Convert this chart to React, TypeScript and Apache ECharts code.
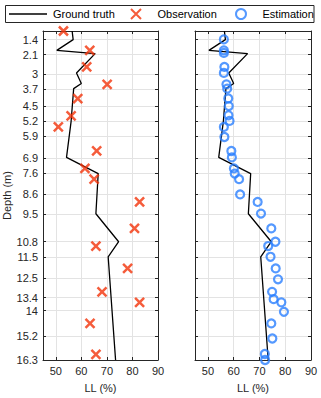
import React, { useEffect, useRef } from "react";
import * as echarts from "echarts";

const depthTicks = [1.4, 2.1, 3, 3.7, 4.5, 5.2, 5.9, 6.9, 7.6, 8.6, 9.5, 10.8, 11.5, 12.5, 13.4, 14, 15.2, 16.3];
const llTicks = [50, 60, 70, 80, 90];

const gtDepth = [1.0, 1.4, 1.9, 2.05, 2.95, 3.44, 3.68, 5.2, 6.88, 7.63, 9.5, 10.8, 11.5, 16.3];
const gtLL = [56.4, 56.8, 50.4, 65.4, 58.1, 60.0, 57.0, 56.0, 54.2, 66.6, 65.7, 74.6, 70.5, 73.4];

const obsDepth = [1.0, 1.9, 2.67, 3.48, 4.14, 4.95, 5.46, 6.58, 7.39, 7.89, 8.95, 10.18, 11.0, 12.04, 13.13, 13.62, 14.6, 16.04];
const obsLL = [53.0, 63.3, 62.1, 70.1, 58.6, 56.0, 51.0, 66.0, 61.4, 65.0, 82.8, 80.8, 65.7, 78.1, 68.1, 82.8, 63.4, 65.7];

const estDepth = [0.97, 1.39, 1.9, 2.02, 2.67, 2.95, 3.48, 3.68, 4.14, 4.49, 4.92, 5.18, 5.46, 5.93, 6.58, 6.88, 7.39, 7.63, 7.89, 8.6, 8.95, 9.49, 10.18, 10.8, 11.0, 11.5, 12.04, 12.55, 13.13, 13.47, 13.62, 14.06, 14.6, 15.3, 16.02, 16.3];
const estLL = [56.2, 56.2, 56.2, 56.2, 56.4, 56.2, 57.2, 57.5, 57.9, 58.1, 58.0, 58.4, 56.2, 56.4, 59.1, 59.3, 60.1, 60.4, 62.1, 62.5, 69.3, 70.6, 74.6, 76.2, 73.4, 74.3, 76.3, 77.2, 74.9, 75.5, 78.5, 79.5, 74.6, 75.0, 72.1, 72.2];

const seriesNames = ["Ground truth", "Observation", "Estimation"];

const AXIS = "#262626";
const GRID = "#e3e3e3";
const RED = "#f2330a";
const BLUE = "#2a7fff";
const FONT = "Liberation Sans";
const XPATH = "path://M0,0L10,10M0,10L10,0";

function pairs(xs: number[], ys: number[]) {
  return xs.map((x, i) => [x, ys[i]]);
}

export default function App() {
  const ref = useRef<HTMLDivElement>(null);
  useEffect(() => {
    if (!ref.current) return;
    const chart = echarts.init(ref.current, undefined, { renderer: "svg" });

    const grids = [
      { left: 43, right: 163, top: 31, bottom: 38 },
      { left: 195, right: 10, top: 31, bottom: 38 },
    ];

    const xBottom = (gi: number, showName: boolean) => ({
      type: "value",
      gridIndex: gi,
      position: "bottom",
      min: 45,
      max: 90,
      name: showName ? "LL (%)" : "",
      nameLocation: "middle",
      nameGap: 22,
      nameTextStyle: { color: AXIS, fontSize: 11, fontFamily: FONT },
      axisLine: { show: true, onZero: false, lineStyle: { color: AXIS, width: 1 } },
      axisTick: { show: true, inside: true, length: 3, customValues: llTicks, lineStyle: { color: AXIS } },
      axisLabel: { show: true, customValues: llTicks, color: AXIS, fontSize: 11, fontFamily: FONT, margin: 5 },
      splitLine: { show: true, lineStyle: { color: GRID, width: 1 } },
    });
    const xTop = (gi: number) => ({
      type: "value",
      gridIndex: gi,
      position: "top",
      min: 45,
      max: 90,
      axisLine: { show: true, onZero: false, lineStyle: { color: AXIS, width: 1 } },
      axisTick: { show: true, inside: true, length: 3, customValues: llTicks, lineStyle: { color: AXIS } },
      axisLabel: { show: false },
      splitLine: { show: false },
    });
    const yLeft = (gi: number, showLabels: boolean) => ({
      type: "value",
      gridIndex: gi,
      position: "left",
      inverse: true,
      min: 1,
      max: 16.3,
      name: showLabels ? "Depth (m)" : "",
      nameLocation: "middle",
      nameGap: 25,
      nameRotate: 90,
      nameTextStyle: { color: AXIS, fontSize: 11, fontFamily: FONT },
      axisLine: { show: true, onZero: false, lineStyle: { color: AXIS, width: 1 } },
      axisTick: { show: true, inside: true, length: 3, customValues: depthTicks, lineStyle: { color: AXIS } },
      axisLabel: { show: showLabels, customValues: depthTicks, color: AXIS, fontSize: 11, fontFamily: FONT, margin: 5 },
      splitLine: { show: true, lineStyle: { color: GRID, width: 1 } },
    });
    const yRight = (gi: number) => ({
      type: "value",
      gridIndex: gi,
      position: "right",
      inverse: true,
      min: 1,
      max: 16.3,
      axisLine: { show: true, onZero: false, lineStyle: { color: AXIS, width: 1 } },
      axisTick: { show: true, inside: true, length: 3, customValues: depthTicks, lineStyle: { color: AXIS } },
      axisLabel: { show: false },
      splitLine: { show: false },
    });

    const gtData = pairs(gtLL, gtDepth);
    const lineSeries = (xi: number, yi: number) => ({
      name: seriesNames[0],
      type: "line",
      xAxisIndex: xi,
      yAxisIndex: yi,
      data: gtData,
      symbol: "none",
      lineStyle: { color: "#000", width: 1.3 },
      itemStyle: { color: "#000" },
      z: 2,
    });

    const legendBase = {
      top: 8,
      padding: 0,
      itemWidth: 37,
      itemHeight: 10,
      itemGap: 0,
      textStyle: { color: "#000", fontSize: 11, fontFamily: FONT, padding: [0, 0, 0, -2] },
    };

    chart.setOption({
      animation: false,
      backgroundColor: "#fff",
      grid: grids,
      xAxis: [xBottom(0, true), xTop(0), xBottom(1, true), xTop(1)],
      yAxis: [yLeft(0, true), yRight(0), yLeft(1, false), yRight(1)],
      legend: [
        { ...legendBase, left: 13, data: [{ name: seriesNames[0], icon: "none" }] },
        { ...legendBase, left: 130, data: [seriesNames[1]] },
        { ...legendBase, left: 235, data: [seriesNames[2]] },
      ],
      graphic: [
        {
          type: "rect",
          shape: { x: 5.5, y: 5.5, width: 308.5, height: 17 },
          style: { fill: "none", stroke: AXIS, lineWidth: 1 },
          silent: true,
          z: 0,
        },
        {
          type: "line",
          shape: { x1: 9, y1: 14, x2: 47, y2: 14 },
          style: { stroke: "#000", lineWidth: 1.3 },
          silent: true,
          z: 1,
        },
      ],
      series: [
        lineSeries(0, 0),
        {
          name: seriesNames[1],
          type: "scatter",
          xAxisIndex: 0,
          yAxisIndex: 0,
          data: pairs(obsLL, obsDepth),
          symbol: XPATH,
          symbolSize: 9,
          itemStyle: { color: RED, borderColor: RED, borderWidth: 2.5 },
          z: 3,
        },
        lineSeries(2, 2),
        {
          name: seriesNames[2],
          type: "scatter",
          xAxisIndex: 2,
          yAxisIndex: 2,
          data: pairs(estLL, estDepth),
          symbol: "circle",
          symbolSize: 8,
          itemStyle: { color: "rgba(0,0,0,0)", borderColor: BLUE, borderWidth: 2.2 },
          z: 3,
        },
      ],
    });
    return () => chart.dispose();
  }, []);
  return <div ref={ref} style={{ width: 321, height: 398, position: "absolute", left: 0, top: 0 }} />;
}
